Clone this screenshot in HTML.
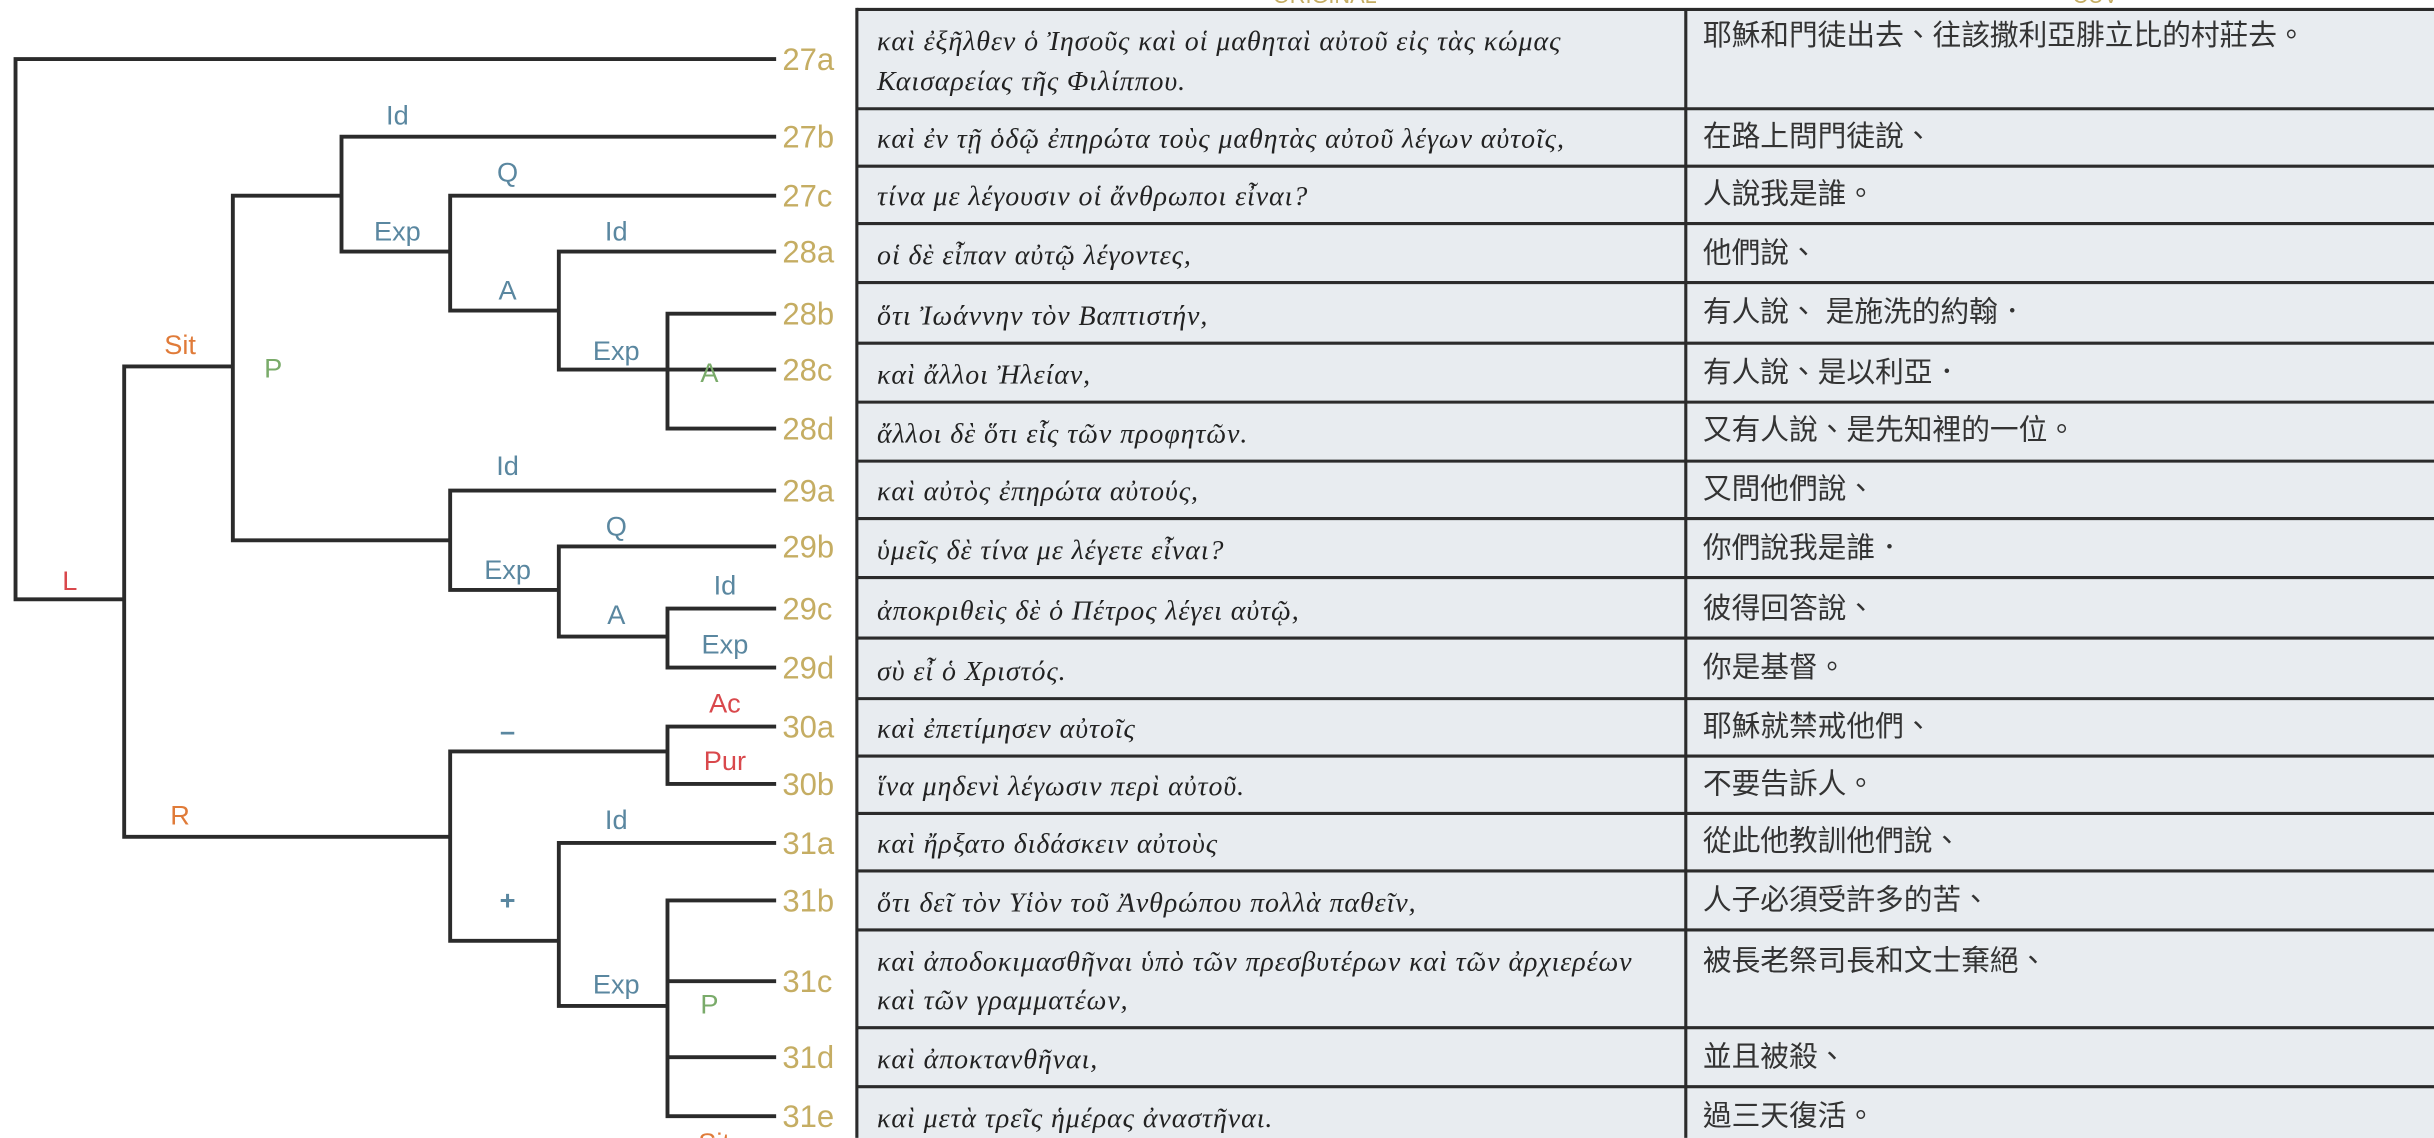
<!DOCTYPE html>
<html><head><meta charset="utf-8"><style>
html,body{margin:0;padding:0;background:#fff;overflow:hidden}
svg{display:block}
.n{font-family:"Liberation Sans",sans-serif;font-size:20px;fill:#c5ad63}
.b{font-family:"Liberation Sans",sans-serif;font-size:17.5px;fill:#5a87a0;text-anchor:middle}
.r{font-family:"Liberation Sans",sans-serif;font-size:17.5px;fill:#d9484c;text-anchor:middle}
.o{font-family:"Liberation Sans",sans-serif;font-size:17.5px;fill:#e07b39;text-anchor:middle}
.g{font-family:"Liberation Sans",sans-serif;font-size:17.5px;fill:#7aab6a;text-anchor:middle}
.gr{font-family:"Liberation Serif",serif;font-size:18px;fill:#222;font-style:italic;letter-spacing:0.6px}
.zh{font-family:"Liberation Sans","Noto Sans CJK TC",sans-serif;font-size:18.5px;fill:#333}
</style></head><body>
<svg width="2434" height="1138" viewBox="0 0 1568 733" xmlns="http://www.w3.org/2000/svg">
<text x="820" y="2" class="n" style="font-size:14px">ORIGINAL</text>
<text x="1335" y="2" class="n" style="font-size:14px">CUV</text>
<g stroke="#2b2b2b" stroke-width="2.5" fill="none">
<polyline points="500,38 10,38 10,386 80,386"/>
<polyline points="150,236 80,236 80,539 290,539"/>
<polyline points="220,126 150,126 150,348 290,348"/>
<polyline points="500,88 220,88 220,162 290,162"/>
<polyline points="500,126 290,126 290,200 360,200"/>
<polyline points="500,162 360,162 360,238 500,238"/>
<polyline points="500,202 430,202 430,276 500,276"/>
<polyline points="500,316 290,316 290,380 360,380"/>
<polyline points="500,352 360,352 360,410 430,410"/>
<polyline points="500,392 430,392 430,430 500,430"/>
<polyline points="430,484 290,484 290,606 360,606"/>
<polyline points="500,468 430,468 430,505 500,505"/>
<polyline points="500,543 360,543 360,648 430,648"/>
<polyline points="500,580 430,580 430,719 500,719"/>
<line x1="430" y1="632" x2="500" y2="632"/>
<line x1="430" y1="681" x2="500" y2="681"/>
</g>
<text x="45" y="380" class="r">L</text>
<text x="116" y="228" class="o">Sit</text>
<text x="116" y="531" class="o">R</text>
<text x="176" y="243" class="g">P</text>
<text x="256" y="80" class="b">Id</text>
<text x="256" y="155" class="b">Exp</text>
<text x="327" y="117" class="b">Q</text>
<text x="327" y="193" class="b">A</text>
<text x="397" y="155" class="b">Id</text>
<text x="397" y="232" class="b">Exp</text>
<text x="457" y="246" class="g">A</text>
<text x="327" y="306" class="b">Id</text>
<text x="327" y="373" class="b">Exp</text>
<text x="397" y="345" class="b">Q</text>
<text x="397" y="402" class="b">A</text>
<text x="467" y="383" class="b">Id</text>
<text x="467" y="421" class="b">Exp</text>
<text x="327" y="477" class="b" style="font-weight:bold">–</text>
<text x="327" y="586" class="b" style="font-weight:bold">+</text>
<text x="467" y="459" class="r">Ac</text>
<text x="467" y="496" class="r">Pur</text>
<text x="397" y="534" class="b">Id</text>
<text x="397" y="640" class="b">Exp</text>
<text x="457" y="653" class="g">P</text>
<text x="460" y="742" class="o">Sit</text>
<g class="n">
<text x="504" y="45">27a</text><text x="504" y="95">27b</text><text x="504" y="133">27c</text>
<text x="504" y="169">28a</text><text x="504" y="209">28b</text><text x="504" y="245">28c</text>
<text x="504" y="283">28d</text><text x="504" y="323">29a</text><text x="504" y="359">29b</text>
<text x="504" y="399">29c</text><text x="504" y="437">29d</text><text x="504" y="475">30a</text>
<text x="504" y="512">30b</text><text x="504" y="550">31a</text><text x="504" y="587">31b</text>
<text x="504" y="639">31c</text><text x="504" y="688">31d</text><text x="504" y="726">31e</text>
</g>
<rect x="552" y="6" width="1020" height="740" fill="#e8ecf0"/>
<g stroke="#2b2b2b" stroke-width="2">
<line x1="552" y1="6" x2="1568" y2="6"/>
<line x1="552" y1="5" x2="552" y2="733"/>
<line x1="1086" y1="6" x2="1086" y2="733"/>
<line x1="552" y1="70" x2="1568" y2="70"/><line x1="552" y1="107" x2="1568" y2="107"/>
<line x1="552" y1="144" x2="1568" y2="144"/><line x1="552" y1="182" x2="1568" y2="182"/>
<line x1="552" y1="221" x2="1568" y2="221"/><line x1="552" y1="259" x2="1568" y2="259"/>
<line x1="552" y1="297" x2="1568" y2="297"/><line x1="552" y1="334" x2="1568" y2="334"/>
<line x1="552" y1="372" x2="1568" y2="372"/><line x1="552" y1="411" x2="1568" y2="411"/>
<line x1="552" y1="450" x2="1568" y2="450"/><line x1="552" y1="487" x2="1568" y2="487"/>
<line x1="552" y1="524" x2="1568" y2="524"/><line x1="552" y1="561" x2="1568" y2="561"/>
<line x1="552" y1="599" x2="1568" y2="599"/><line x1="552" y1="662" x2="1568" y2="662"/>
<line x1="552" y1="700" x2="1568" y2="700"/>
</g>
<g class="gr">
<text x="565" y="32">καὶ ἐξῆλθεν ὁ Ἰησοῦς καὶ οἱ μαθηταὶ αὐτοῦ εἰς τὰς κώμας</text>
<text x="565" y="58">Καισαρείας τῆς Φιλίππου.</text>
<text x="565" y="95">καὶ ἐν τῇ ὁδῷ ἐπηρώτα τοὺς μαθητὰς αὐτοῦ λέγων αὐτοῖς,</text>
<text x="565" y="132">τίνα με λέγουσιν οἱ ἄνθρωποι εἶναι?</text>
<text x="565" y="170">οἱ δὲ εἶπαν αὐτῷ λέγοντες,</text>
<text x="565" y="209">ὅτι Ἰωάννην τὸν Βαπτιστήν,</text>
<text x="565" y="247">καὶ ἄλλοι Ἠλείαν,</text>
<text x="565" y="285">ἄλλοι δὲ ὅτι εἷς τῶν προφητῶν.</text>
<text x="565" y="322">καὶ αὐτὸς ἐπηρώτα αὐτούς,</text>
<text x="565" y="360">ὑμεῖς δὲ τίνα με λέγετε εἶναι?</text>
<text x="565" y="399">ἀποκριθεὶς δὲ ὁ Πέτρος λέγει αὐτῷ,</text>
<text x="565" y="438">σὺ εἶ ὁ Χριστός.</text>
<text x="565" y="475">καὶ ἐπετίμησεν αὐτοῖς</text>
<text x="565" y="512">ἵνα μηδενὶ λέγωσιν περὶ αὐτοῦ.</text>
<text x="565" y="549">καὶ ἤρξατο διδάσκειν αὐτοὺς</text>
<text x="565" y="587">ὅτι δεῖ τὸν Υἱὸν τοῦ Ἀνθρώπου πολλὰ παθεῖν,</text>
<text x="565" y="625">καὶ ἀποδοκιμασθῆναι ὑπὸ τῶν πρεσβυτέρων καὶ τῶν ἀρχιερέων</text>
<text x="565" y="650">καὶ τῶν γραμματέων,</text>
<text x="565" y="688">καὶ ἀποκτανθῆναι,</text>
<text x="565" y="726">καὶ μετὰ τρεῖς ἡμέρας ἀναστῆναι.</text>
</g>
<g class="zh">
<text x="1097" y="29">耶穌和門徒出去、往該撒利亞腓立比的村莊去。</text>
<text x="1097" y="94">在路上問門徒說、</text>
<text x="1097" y="131">人說我是誰。</text>
<text x="1097" y="169">他們說、</text>
<text x="1097" y="207">有人說、 是施洗的約翰．</text>
<text x="1097" y="246">有人說、是以利亞．</text>
<text x="1097" y="283">又有人說、是先知裡的一位。</text>
<text x="1097" y="321">又問他們說、</text>
<text x="1097" y="359">你們說我是誰．</text>
<text x="1097" y="398">彼得回答說、</text>
<text x="1097" y="436">你是基督。</text>
<text x="1097" y="474">耶穌就禁戒他們、</text>
<text x="1097" y="511">不要告訴人。</text>
<text x="1097" y="548">從此他教訓他們說、</text>
<text x="1097" y="586">人子必須受許多的苦、</text>
<text x="1097" y="625">被長老祭司長和文士棄絕、</text>
<text x="1097" y="687">並且被殺、</text>
<text x="1097" y="725">過三天復活。</text>
</g>
</svg>
</body></html>
